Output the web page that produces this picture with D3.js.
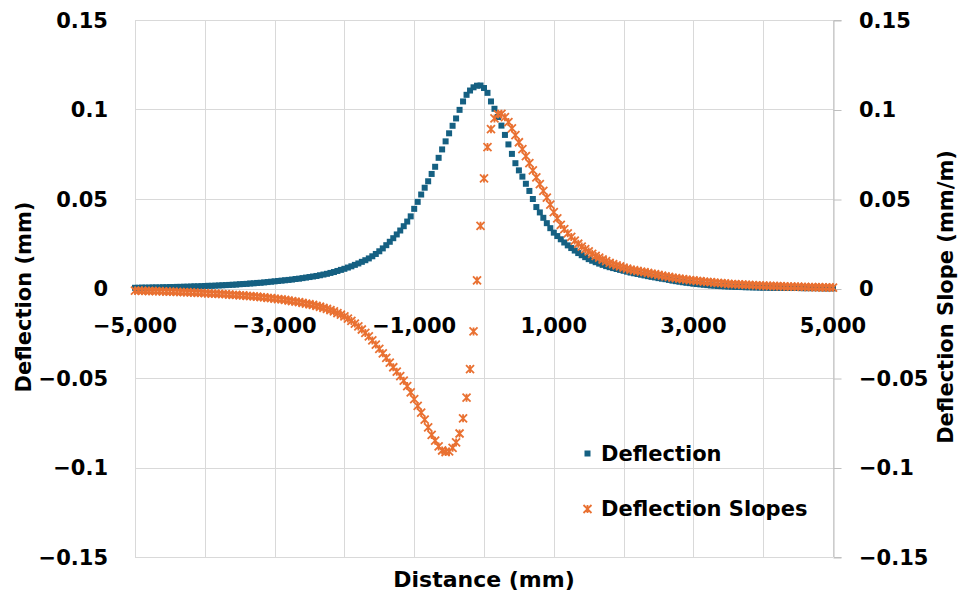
<!DOCTYPE html>
<meta charset="utf-8">
<style>
  body { margin: 0; background: #fff; }
  text { font-family: "DejaVu Sans", sans-serif; font-weight: bold; fill: #000; }
</style>
<script src="https://d3js.org/d3.v7.min.js"></script>
<div id="my_dataviz"></div>
<script>
// distance along the road (mm)
var distance = [
  -5000,-4950,-4900,-4850,-4800,-4750,-4700,-4650,-4600,-4550,
  -4500,-4450,-4400,-4350,-4300,-4250,-4200,-4150,-4100,-4050,
  -4000,-3950,-3900,-3850,-3800,-3750,-3700,-3650,-3600,-3550,
  -3500,-3450,-3400,-3350,-3300,-3250,-3200,-3150,-3100,-3050,
  -3000,-2950,-2900,-2850,-2800,-2750,-2700,-2650,-2600,-2550,
  -2500,-2450,-2400,-2350,-2300,-2250,-2200,-2150,-2100,-2050,
  -2000,-1950,-1900,-1850,-1800,-1750,-1700,-1650,-1600,-1550,
  -1500,-1450,-1400,-1350,-1300,-1250,-1200,-1150,-1100,-1050,
  -1000,-950,-900,-850,-800,-750,-700,-650,-600,-550,
  -500,-450,-400,-350,-300,-250,-200,-150,-100,-50,
  0,50,100,150,200,250,300,350,400,450,
  500,550,600,650,700,750,800,850,900,950,
  1000,1050,1100,1150,1200,1250,1300,1350,1400,1450,
  1500,1550,1600,1650,1700,1750,1800,1850,1900,1950,
  2000,2050,2100,2150,2200,2250,2300,2350,2400,2450,
  2500,2550,2600,2650,2700,2750,2800,2850,2900,2950,
  3000,3050,3100,3150,3200,3250,3300,3350,3400,3450,
  3500,3550,3600,3650,3700,3750,3800,3850,3900,3950,
  4000,4050,4100,4150,4200,4250,4300,4350,4400,4450,
  4500,4550,4600,4650,4700,4750,4800,4850,4900,4950,
  5000
];

// deflection (mm)
var deflection = [
  0.0004,0.0004,0.0005,0.0005,0.0005,0.0006,0.0006,0.0006,0.0007,0.0007,
  0.0008,0.0008,0.0009,0.0009,0.0010,0.0010,0.0011,0.0012,0.0012,0.0013,
  0.0014,0.0015,0.0015,0.0016,0.0017,0.0018,0.0019,0.0020,0.0021,0.0022,
  0.0024,0.0025,0.0026,0.0028,0.0029,0.0031,0.0032,0.0034,0.0036,0.0038,
  0.0040,0.0042,0.0044,0.0046,0.0048,0.0050,0.0053,0.0055,0.0058,0.0061,
  0.0064,0.0067,0.0070,0.0074,0.0078,0.0082,0.0087,0.0092,0.0098,0.0104,
  0.0110,0.0117,0.0124,0.0132,0.0140,0.0149,0.0158,0.0168,0.0180,0.0193,
  0.0208,0.0224,0.0242,0.0261,0.0281,0.0302,0.0324,0.0348,0.0374,0.0403,
  0.0445,0.0484,0.0525,0.0563,0.0599,0.0640,0.0680,0.0730,0.0777,0.0822,
  0.0867,0.0909,0.0950,0.0998,0.1045,0.1082,0.1106,0.1124,0.1133,0.1134,
  0.1120,0.1093,0.1045,0.1004,0.0958,0.0910,0.0858,0.0805,0.0752,0.0700,
  0.0660,0.0625,0.0585,0.0545,0.0500,0.0455,0.0425,0.0395,0.0365,0.0337,
  0.0312,0.0293,0.0275,0.0257,0.0241,0.0226,0.0212,0.0198,0.0186,0.0175,
  0.0164,0.0155,0.0147,0.0139,0.0132,0.0125,0.0119,0.0114,0.0109,0.0104,
  0.0099,0.0094,0.0089,0.0085,0.0081,0.0077,0.0073,0.0069,0.0065,0.0062,
  0.0058,0.0055,0.0052,0.0048,0.0044,0.0041,0.0038,0.0035,0.0032,0.0030,
  0.0027,0.0025,0.0023,0.0021,0.0019,0.0017,0.0016,0.0014,0.0013,0.0012,
  0.0011,0.0010,0.0009,0.0009,0.0008,0.0007,0.0007,0.0006,0.0006,0.0005,
  0.0005,0.0005,0.0004,0.0004,0.0004,0.0004,0.0003,0.0003,0.0003,0.0003,
  0.0003,0.0002,0.0002,0.0002,0.0002,0.0002,0.0002,0.0001,0.0001,0.0001,
  0.0001
];

// deflection slopes (mm/m)
var slopes = [
  -0.0012,-0.0012,-0.0013,-0.0013,-0.0014,-0.0014,-0.0015,-0.0015,-0.0016,-0.0017,
  -0.0017,-0.0018,-0.0019,-0.0020,-0.0020,-0.0021,-0.0022,-0.0023,-0.0024,-0.0025,
  -0.0026,-0.0027,-0.0028,-0.0029,-0.0030,-0.0031,-0.0032,-0.0034,-0.0035,-0.0036,
  -0.0038,-0.0039,-0.0041,-0.0042,-0.0044,-0.0046,-0.0048,-0.0050,-0.0052,-0.0054,
  -0.0056,-0.0059,-0.0061,-0.0064,-0.0067,-0.0070,-0.0073,-0.0076,-0.0080,-0.0084,
  -0.0088,-0.0092,-0.0097,-0.0102,-0.0108,-0.0114,-0.0121,-0.0128,-0.0137,-0.0146,
  -0.0156,-0.0168,-0.0181,-0.0196,-0.0212,-0.0229,-0.0248,-0.0268,-0.0290,-0.0313,
  -0.0337,-0.0362,-0.0388,-0.0414,-0.0440,-0.0465,-0.0490,-0.0515,-0.0545,-0.0580,
  -0.0618,-0.0656,-0.0694,-0.0733,-0.0776,-0.0818,-0.0850,-0.0882,-0.0905,-0.0914,
  -0.0910,-0.0890,-0.0860,-0.0810,-0.0725,-0.0610,-0.0450,-0.0240,0.0045,0.0350,
  0.0615,0.0790,0.0890,0.0950,0.0973,0.0976,0.0957,0.0930,0.0895,0.0857,
  0.0817,0.0778,0.0740,0.0700,0.0660,0.0621,0.0583,0.0545,0.0508,0.0468,
  0.0427,0.0392,0.0355,0.0332,0.0308,0.0288,0.0268,0.0250,0.0234,0.0220,
  0.0207,0.0194,0.0182,0.0172,0.0162,0.0153,0.0143,0.0136,0.0129,0.0123,
  0.0117,0.0111,0.0106,0.0102,0.0098,0.0094,0.0091,0.0087,0.0083,0.0080,
  0.0076,0.0072,0.0068,0.0065,0.0061,0.0058,0.0055,0.0052,0.0050,0.0047,
  0.0045,0.0043,0.0041,0.0039,0.0037,0.0035,0.0033,0.0031,0.0030,0.0028,
  0.0026,0.0025,0.0024,0.0023,0.0022,0.0021,0.0020,0.0019,0.0018,0.0017,
  0.0016,0.0015,0.0015,0.0014,0.0013,0.0013,0.0012,0.0011,0.0011,0.0010,
  0.0010,0.0009,0.0009,0.0008,0.0008,0.0007,0.0007,0.0006,0.0006,0.0006,
  0.0005
];

var xGrid = [-5000,-4000,-3000,-2000,-1000,0,1000,2000,3000,4000,5000];
var xLabels = [-5000,-3000,-1000,1000,3000,5000];
var yTicks = [-0.15,-0.1,-0.05,0,0.05,0.1,0.15];
var yTickText = ["\u22120.15","\u22120.1","\u22120.05","0","0.05","0.1","0.15"];

var width = 963, height = 594;
var plot = {left: 135, right: 833, top: 20, bottom: 557};
var blue = "#156082", orange = "#E97132";

var svg = d3.select("#my_dataviz")
  .append("svg")
    .attr("width", width)
    .attr("height", height);

var x = d3.scaleLinear().domain([-5000, 5000]).range([plot.left, plot.right]);
var y = d3.scaleLinear().domain([-0.15, 0.15]).range([plot.bottom, plot.top]);
var y2 = d3.scaleLinear().domain([-0.15, 0.15]).range([plot.bottom, plot.top]);

// gridlines
svg.append("g").selectAll("line")
  .data(yTicks).enter().append("line")
    .attr("x1", plot.left).attr("x2", plot.right)
    .attr("y1", function(d) { return Math.round(y(d)) + 0.5; })
    .attr("y2", function(d) { return Math.round(y(d)) + 0.5; })
    .attr("stroke", "#d9d9d9");
svg.append("g").selectAll("line")
  .data(xGrid).enter().append("line")
    .attr("y1", plot.top).attr("y2", plot.bottom)
    .attr("x1", function(d) { return Math.round(x(d)) + 0.5; })
    .attr("x2", function(d) { return Math.round(x(d)) + 0.5; })
    .attr("stroke", "#d9d9d9");

// secondary axis on the right
var rightAxis = svg.append("g")
  .attr("transform", "translate(" + (Math.round(plot.right) + 0.5) + ",0)")
  .call(d3.axisRight(y2).tickValues(yTicks).tickSize(8).tickFormat(""));
rightAxis.select(".domain").attr("stroke", "#bfbfbf");
rightAxis.selectAll(".tick line").attr("stroke", "#bfbfbf")
  .attr("transform", "translate(0,0.5)");

// left tick labels
svg.append("g").selectAll("text")
  .data(yTicks).enter().append("text")
    .attr("x", 108)
    .attr("y", function(d) { return y(d); })
    .attr("dy", "0.36em")
    .attr("text-anchor", "end")
    .style("font-size", "21px")
    .text(function(d, i) { return yTickText[i]; });

// right tick labels
svg.append("g").selectAll("text")
  .data(yTicks).enter().append("text")
    .attr("x", 859)
    .attr("y", function(d) { return y2(d); })
    .attr("dy", "0.36em")
    .style("font-size", "21px")
    .text(function(d, i) { return yTickText[i]; });

// x tick labels, sitting under the zero line
svg.append("g").selectAll("text")
  .data(xLabels).enter().append("text")
    .attr("x", function(d) { return x(d); })
    .attr("y", 333)
    .attr("text-anchor", "middle")
    .style("font-size", "21px")
    .text(function(d) { return d3.format(",")(d); });

// deflection: squares
var pts = distance.map(function(d, i) { return {x: d, d: deflection[i], s: slopes[i]}; });
var sq = 6;
svg.append("g").selectAll("rect")
  .data(pts).enter().append("rect")
    .attr("x", function(d) { return x(d.x) - sq / 2; })
    .attr("y", function(d) { return y(d.d) - sq / 2; })
    .attr("width", sq).attr("height", sq)
    .attr("fill", blue);

// slopes: star markers
var st = 4;
var starPath = "M" + (-st) + "," + (-st) + "L" + st + "," + st +
  "M" + (-st) + "," + st + "L" + st + "," + (-st) +
  "M0," + (-st) + "L0," + st;
svg.append("g").selectAll("path")
  .data(pts).enter().append("path")
    .attr("transform", function(d) { return "translate(" + x(d.x) + "," + y2(d.s) + ")"; })
    .attr("d", starPath)
    .attr("stroke", orange)
    .attr("stroke-width", 1.8)
    .attr("fill", "none");

// legend
var legend = svg.append("g");
legend.append("rect")
  .attr("x", 584.5).attr("y", 450.5).attr("width", 6).attr("height", 6)
  .attr("fill", blue);
legend.append("text")
  .attr("x", 601).attr("y", 461)
  .style("font-size", "21px")
  .text("Deflection");
legend.append("path")
  .attr("transform", "translate(587.5,509)")
  .attr("d", starPath)
  .attr("stroke", orange).attr("stroke-width", 1.8).attr("fill", "none");
legend.append("text")
  .attr("x", 601).attr("y", 516)
  .style("font-size", "21px")
  .text("Deflection Slopes");

// axis titles
svg.append("text")
  .attr("text-anchor", "middle")
  .attr("x", 484).attr("y", 587)
  .style("font-size", "22px")
  .text("Distance (mm)");

svg.append("text")
  .attr("text-anchor", "middle")
  .attr("transform", "translate(31,297) rotate(-90)")
  .style("font-size", "21px")
  .text("Deflection (mm)");

svg.append("text")
  .attr("text-anchor", "middle")
  .attr("transform", "translate(953,297) rotate(-90)")
  .style("font-size", "21px")
  .text("Deflection Slope (mm/m)");
</script>
